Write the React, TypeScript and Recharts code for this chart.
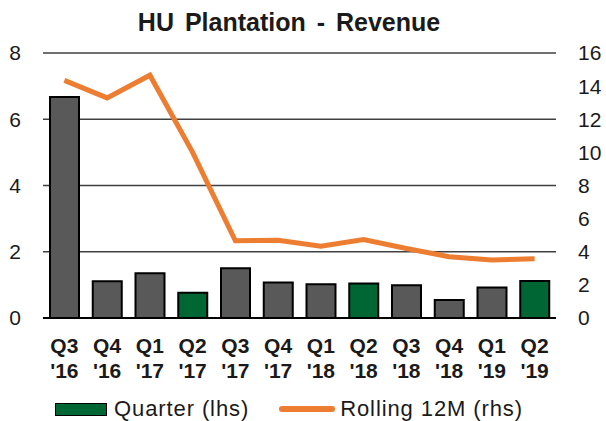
import { ComposedChart, Bar, Line, XAxis, YAxis, CartesianGrid, Cell } from 'recharts';

const QUARTERS = [
  "Q3 '16", "Q4 '16", "Q1 '17", "Q2 '17", "Q3 '17", "Q4 '17",
  "Q1 '18", "Q2 '18", "Q3 '18", "Q4 '18", "Q1 '19", "Q2 '19",
];
// quarterly revenue, left axis
const QUARTER_REVENUE = [6.67, 1.11, 1.35, 0.76, 1.5, 1.07, 1.02, 1.04, 0.99, 0.54, 0.92, 1.12];
// rolling 12 month revenue, right axis
const ROLLING_12M = [14.35, 13.29, 14.66, 10.0, 4.66, 4.7, 4.34, 4.74, 4.2, 3.7, 3.5, 3.58];
const LHS_TICKS = [0, 2, 4, 6, 8];
const RHS_TICKS = [0, 2, 4, 6, 8, 10, 12, 14, 16];

const FONT = "'Liberation Sans', Arial, sans-serif";
const BAR_GREY = '#595959';
const BAR_GREEN = '#006633';
const LINE_ORANGE = '#ED7D31';

const chartData = QUARTERS.map((quarter, i) => ({
  quarter,
  revenue: QUARTER_REVENUE[i],
  rolling: ROLLING_12M[i],
}));

const QuarterTick = ({ x, y, payload }: any) => {
  const [q, yr] = String(payload.value).split(' ');
  return (
    <text x={x} y={y} textAnchor='middle' fontFamily={FONT} fontWeight='bold' fontSize={21} fill='#1a1a1a'>
      <tspan x={x} dy={35}>{q}</tspan>
      <tspan x={x} dy={25}>{yr}</tspan>
    </text>
  );
};

const tickStyle = { fontSize: 21, fill: '#1a1a1a', fontFamily: FONT };

export default function App() {
  return (
    <div style={{ position: 'absolute', left: 0, top: 0, width: 606, height: 421, background: '#fff', fontFamily: FONT }}>
      <div
        style={{
          position: 'absolute',
          left: 0,
          width: 578,
          top: 8,
          textAlign: 'center',
          fontSize: 25,
          fontWeight: 'bold',
          color: '#1a1a1a',
          wordSpacing: 4,
        }}
      >
        HU Plantation - Revenue
      </div>
      <ComposedChart
        width={606}
        height={421}
        data={chartData}
        margin={{ top: 53, right: 0, left: 0, bottom: 43 }}
      >
        <CartesianGrid vertical={false} stroke='#404040' strokeWidth={1.5} yAxisId='lhs' />
        <XAxis
          dataKey='quarter'
          height={60}
          interval={0}
          tickSize={0}
          tickMargin={0}
          tick={<QuarterTick />}
          axisLine={{ stroke: '#000', strokeWidth: 2 }}
          tickLine={false}
        />
        <YAxis
          yAxisId='lhs'
          orientation='left'
          width={43}
          domain={[0, 8]}
          ticks={LHS_TICKS}
          tickSize={0}
          tickMargin={22}
          axisLine={false}
          tickLine={false}
          tick={tickStyle}
        />
        <YAxis
          yAxisId='rhs'
          orientation='right'
          width={50}
          domain={[0, 16]}
          ticks={RHS_TICKS}
          tickSize={0}
          tickMargin={22}
          axisLine={false}
          tickLine={false}
          tick={{ ...tickStyle, textAnchor: 'start' }}
        />
        <Bar yAxisId='lhs' dataKey='revenue' barSize={29} stroke='#000' strokeWidth={2} isAnimationActive={false}>
          {chartData.map((d) => (
            <Cell key={d.quarter} fill={d.quarter.startsWith('Q2') ? BAR_GREEN : BAR_GREY} />
          ))}
        </Bar>
        <Line
          yAxisId='rhs'
          dataKey='rolling'
          type='linear'
          stroke={LINE_ORANGE}
          strokeWidth={5}
          dot={false}
          isAnimationActive={false}
        />
      </ComposedChart>
      {/* legend drawn by hand so it sits exactly under the axis labels */}
      <div
        style={{
          position: 'absolute',
          top: 398,
          left: 55,
          display: 'flex',
          alignItems: 'center',
          fontSize: 22,
          lineHeight: '22px',
          letterSpacing: 0.9,
          color: '#1a1a1a',
          whiteSpace: 'nowrap',
        }}
      >
        <span style={{ width: 50, height: 11, background: BAR_GREEN, border: '1.5px solid #000', display: 'inline-block' }} />
        <span style={{ marginLeft: 7 }}>Quarter (lhs)</span>
        <span style={{ width: 56, height: 6, background: LINE_ORANGE, borderRadius: 3, display: 'inline-block', marginLeft: 30 }} />
        <span style={{ marginLeft: 5 }}>Rolling 12M (rhs)</span>
      </div>
    </div>
  );
}
